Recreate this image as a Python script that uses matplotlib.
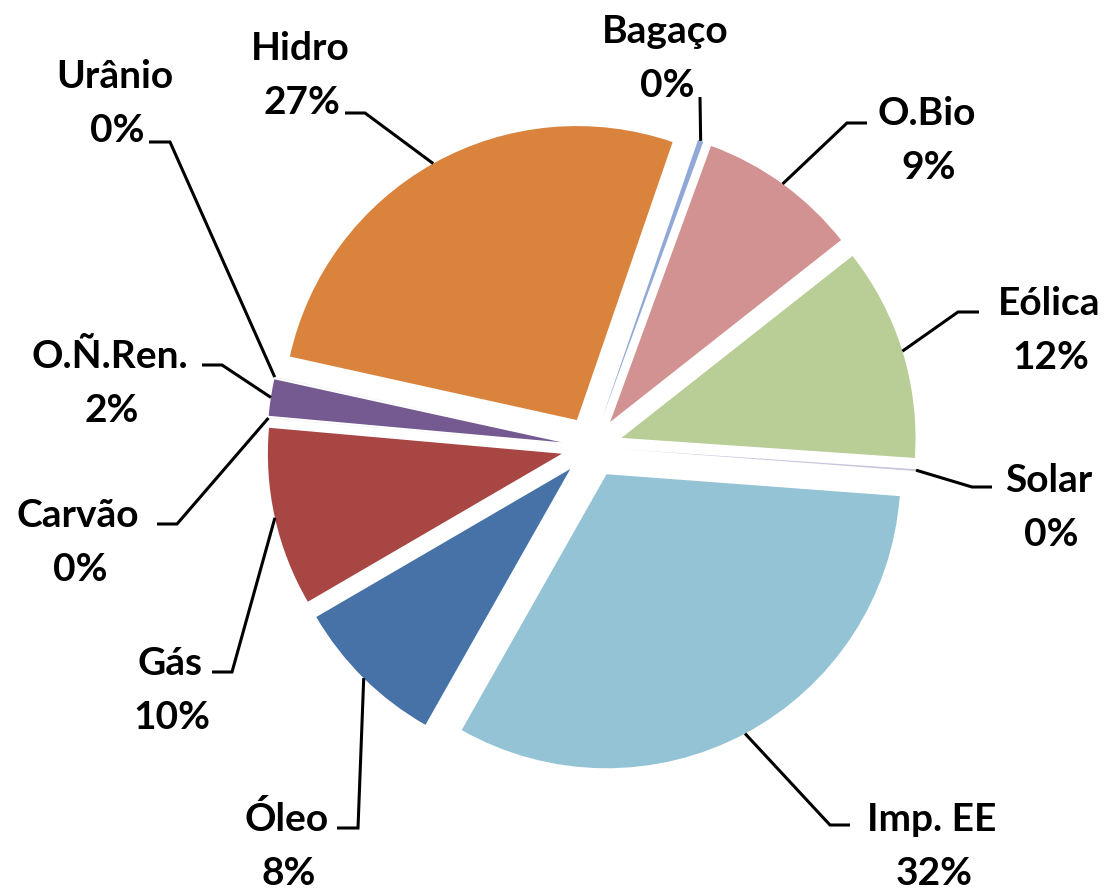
import matplotlib
matplotlib.use("Agg")
import matplotlib.pyplot as plt
import numpy as np

# ---- data ----
categories = ["Hidro", "Urânio", "O.Ñ.Ren.", "Carvão", "Gás", "Óleo",
              "Imp. EE", "Solar", "Eólica", "O.Bio", "Bagaço"]
shares = [26.8, 0.03, 2.0, 0.03, 9.8, 8.4, 32.0, 0.1, 11.7, 8.8, 0.3]
colors = ["#D9833C", "#E4E9F3", "#745A91", "#EDEDED", "#A84644", "#4672A8",
          "#93C3D5", "#C9C3DC", "#B9CD96", "#D39292", "#8FA8D6"]

# ---- layout (pixels in a 1105x891 canvas) ----
W, H = 1105, 891
CX, CY, R = 592, 447, 294
EXPLODE = 0.105

# label name baseline position (x center, y baseline) and leader elbow/end
label_pos = {
    "Hidro":    (300, 60),
    "Urânio":   (115, 88),
    "O.Ñ.Ren.": (110, 368),
    "Carvão":   (78, 527),
    "Gás":      (170, 675),
    "Óleo":     (287, 831),
    "Imp. EE":  (932, 831),
    "Solar":    (1049, 492),
    "Eólica":   (1049, 315),
    "O.Bio":    (927, 125),
    "Bagaço":   (665, 43),
}
leader = {
    "Hidro":    [(365, 113), (345, 113)],
    "Urânio":   [(170, 142), (149, 142)],
    "O.Ñ.Ren.": [(222, 365), (202, 365)],
    "Carvão":   [(177, 524), (157, 524)],
    "Gás":      [(232, 672), (212, 672)],
    "Óleo":     [(358, 828), (337, 828)],
    "Imp. EE":  [(830, 825), (850, 825)],
    "Solar":    [(972, 487), (992, 487)],
    "Eólica":   [(958, 312), (979, 312)],
    "O.Bio":    [(847, 123), (867, 123)],
    "Bagaço":   [(700, 97)],
}


def px(x, y):
    return ((x - CX) / R, (CY - y) / R)


fig = plt.figure(figsize=(W / 100, H / 100), dpi=100)
ax = fig.add_axes([0, 0, 1, 1])

wedges, _ = ax.pie(shares, colors=colors, startangle=71, counterclock=True,
                   explode=[EXPLODE] * len(shares), radius=1.0,
                   wedgeprops=dict(linewidth=0, antialiased=True))

font = dict(family=["Lato", "DejaVu Sans"], fontweight="bold", fontsize=28,
            color="black")
total = sum(shares)
for w, name, v in zip(wedges, categories, shares):
    mid = np.deg2rad((w.theta1 + w.theta2) / 2)
    ax_x = (1 + EXPLODE) * np.cos(mid)
    ax_y = (1 + EXPLODE) * np.sin(mid)
    pts = [(ax_x, ax_y)] + [px(*p) for p in leader[name]]
    xs, ys = zip(*pts)
    ax.plot(xs, ys, color="black", lw=2.2, solid_capstyle="butt",
            solid_joinstyle="miter")
    lx, ly = label_pos[name]
    ax.text(*px(lx, ly), name, ha="center", va="baseline", **font)
    ax.text(*px(lx + 2, ly + 54), f"{round(v / total * 100)}%",
            ha="center", va="baseline", **font)

ax.set_xlim(-CX / R, (W - CX) / R)
ax.set_ylim(-(H - CY) / R, CY / R)
ax.set_aspect("equal")
ax.axis("off")

fig.savefig("out.png", dpi=100)
